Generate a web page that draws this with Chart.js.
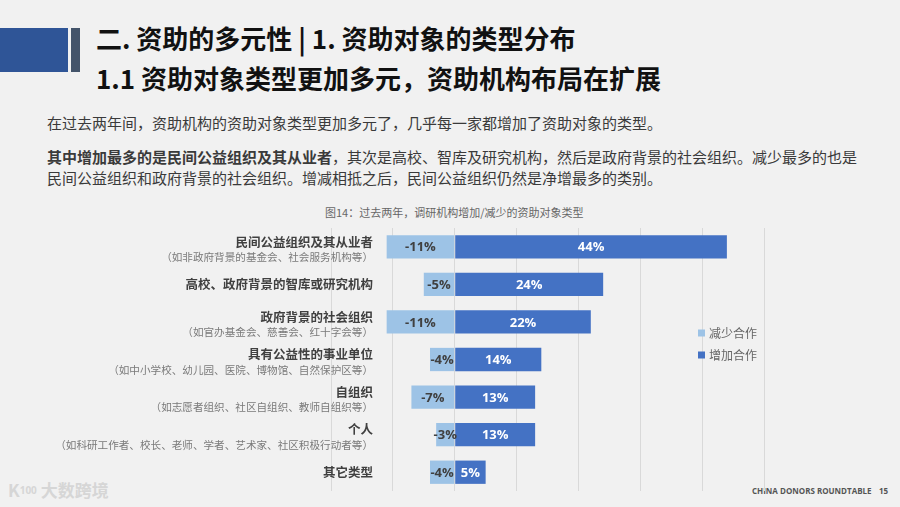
<!DOCTYPE html>
<html>
<head>
<meta charset="utf-8">
<script src="https://cdn.jsdelivr.net/npm/chart.js@4.4.0/dist/chart.umd.min.js"></script>
<style>
  body { margin: 0; background: #f1f1f1; width: 900px; height: 507px; overflow: hidden; position: relative;
         font-family: "Noto Sans CJK SC", "Noto Sans", sans-serif; }
  .abs { position: absolute; white-space: nowrap; }
  #blk1 { left: 0; top: 28px; width: 68px; height: 44px; background: #2f5597; }
  #blk2 { left: 71px; top: 28px; width: 9px; height: 44px; background: #44546a; }
  .title { left: 96px; font-size: 26px; font-weight: bold; color: #111; line-height: 30px; }
  .body { left: 47px; font-size: 15px; color: #3a3a3a; line-height: 20px; }
  #ctitle { left: 325px; top: 204px; font-size: 11px; color: #666; line-height: 16px; }
  #footer { left: 752px; top: 486px; font-size: 8px; font-weight: bold; color: #555; font-family: "Open Sans", sans-serif; line-height: 10px; }
  #page { left: 879px; top: 486px; font-size: 8px; font-weight: bold; color: #555; font-family: "Open Sans", sans-serif; line-height: 10px; }
  #logo { left: 8px; top: 478px; font-size: 17px; font-weight: bold; color: #d6d6d6; line-height: 24px; }
  #logo span { font-size: 10px; vertical-align: top; font-family: "Open Sans", sans-serif; }
  canvas { position: absolute; left: 0; top: 0; }
</style>
</head>
<body>
<div id="blk1" class="abs"></div>
<div id="blk2" class="abs"></div>
<div class="abs title" style="top:23px">二. 资助的多元性 | 1. 资助对象的类型分布</div>
<div class="abs title" style="top:63px">1.1 资助对象类型更加多元，资助机构布局在扩展</div>
<div class="abs body" style="top:113px">在过去两年间，资助机构的资助对象类型更加多元了，几乎每一家都增加了资助对象的类型。</div>
<div class="abs body" style="top:147px"><b>其中增加最多的是民间公益组织及其从业者</b>，其次是高校、智库及研究机构，然后是政府背景的社会组织。减少最多的也是</div>
<div class="abs body" style="top:168px">民间公益组织和政府背景的社会组织。增减相抵之后，民间公益组织仍然是净增最多的类别。</div>
<div id="ctitle" class="abs">图14：过去两年，调研机构增加/减少的资助对象类型</div>
<div id="logo" class="abs">K<span>100</span> 大数跨境</div>
<div id="footer" class="abs">CHINA DONORS ROUNDTABLE</div>
<div id="page" class="abs">15</div>
<canvas id="chart" width="900" height="507"></canvas>
<script>
const categories = [
  "民间公益组织及其从业者",
  "高校、政府背景的智库或研究机构",
  "政府背景的社会组织",
  "具有公益性的事业单位",
  "自组织",
  "个人",
  "其它类型"
];
const subLabels = [
  "（如非政府背景的基金会、社会服务机构等）",
  "",
  "（如官办基金会、慈善会、红十字会等）",
  "（如中小学校、幼儿园、医院、博物馆、自然保护区等）",
  "（如志愿者组织、社区自组织、教师自组织等）",
  "（如科研工作者、校长、老师、学者、艺术家、社区积极行动者等）",
  ""
];
const seriesNames = ["减少合作", "增加合作"];
const decrease = [-11, -5, -11, -4, -7, -3, -4];
const increase = [44, 24, 22, 14, 13, 13, 5];

// category labels, value labels and legend drawn on the canvas
const decorPlugin = {
  id: "decor",
  afterDatasetsDraw(chart) {
    const ctx = chart.ctx;
    const y = chart.scales.y;
    ctx.save();
    ctx.textAlign = "right";
    ctx.textBaseline = "middle";
    categories.forEach(function (name, i) {
      const cy = y.getPixelForValue(i);
      ctx.font = "bold 12.5px 'Noto Sans CJK SC'";
      ctx.fillStyle = "#404040";
      if (subLabels[i]) {
        ctx.fillText(name, 373, cy - 5);
        ctx.font = "10.6px 'Noto Sans CJK SC'";
        ctx.fillStyle = "#7a7a7a";
        ctx.fillText(subLabels[i], 373, cy + 10);
      } else {
        ctx.fillText(name, 373, cy);
      }
    });

    ctx.textAlign = "center";
    ctx.font = "bold 13px 'Open Sans'";
    chart.data.datasets.forEach(function (ds, d) {
      const meta = chart.getDatasetMeta(d);
      meta.data.forEach(function (bar, i) {
        const cx = (bar.x + bar.base) / 2;
        ctx.fillStyle = d === 0 ? "#404040" : "#ffffff";
        ctx.fillText(ds.data[i] + "%", cx, bar.y + 1);
      });
    });

    ctx.textAlign = "left";
    ctx.font = "12px 'Noto Sans CJK SC'";
    chart.data.datasets.forEach(function (ds, d) {
      const ly = 333 + d * 22;
      ctx.fillStyle = ds.backgroundColor;
      ctx.fillRect(698, ly - 3.5, 7, 7);
      ctx.fillStyle = "#666";
      ctx.fillText(ds.label, 709, ly);
    });
    ctx.restore();
  }
};

new Chart(document.getElementById("chart"), {
  type: "bar",
  data: {
    labels: categories,
    datasets: [
      { label: seriesNames[0], data: decrease, backgroundColor: "#9dc3e6", barPercentage: 0.62, categoryPercentage: 1 },
      { label: seriesNames[1], data: increase, backgroundColor: "#4472c4", barPercentage: 0.62, categoryPercentage: 1 }
    ]
  },
  options: {
    indexAxis: "y",
    responsive: false,
    animation: false,
    layout: { padding: { left: 331, right: 136, top: 228, bottom: 16 } },
    plugins: { legend: { display: false }, tooltip: { enabled: false } },
    scales: {
      x: {
        stacked: true,
        min: -20,
        max: 50,
        ticks: { display: false, stepSize: 10 },
        grid: { color: "#d9d9d9", drawTicks: false },
        border: { display: false }
      },
      y: { stacked: true, display: false }
    }
  },
  plugins: [decorPlugin]
});
</script>
</body>
</html>
